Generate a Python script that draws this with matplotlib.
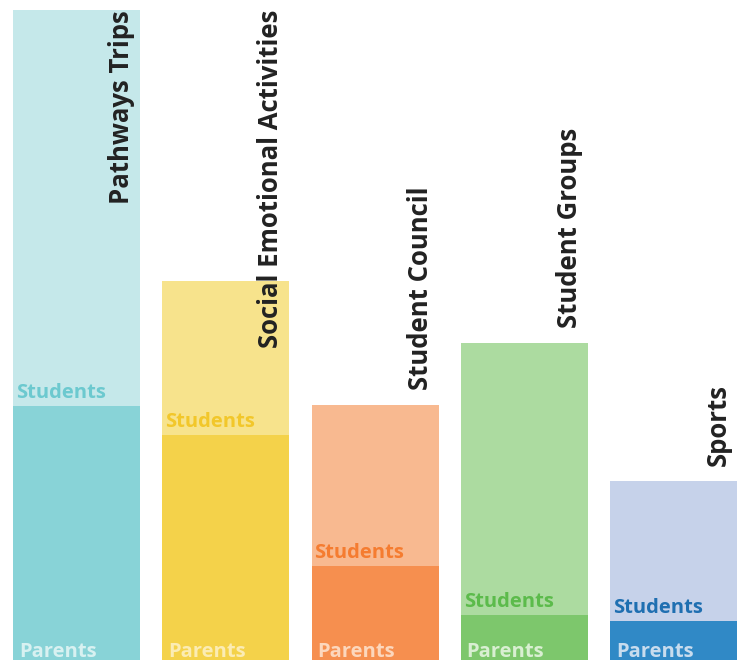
import matplotlib as mpl
import matplotlib.pyplot as plt
import numpy as np

mpl.rcParams["font.family"] = ["Open Sans", "DejaVu Sans"]

CATEGORIES = ["Pathways Trips", "Social Emotional Activities", "Student Council",
              "Student Groups", "Sports"]
PARENTS = [254, 225, 94, 45, 39]
STUDENTS = [396, 154, 161, 272, 140]

DARK = ["#88d3d7", "#f4d24a", "#f68f4f", "#7dc76c", "#3089c6"]
LIGHT = ["#c5e8ea", "#f7e38c", "#f8b990", "#acdba0", "#c6d2ea"]
STUDENT_TEXT = ["#6cc9cf", "#f2c72a", "#f57c30", "#5cbb4b", "#1f6fb1"]
PARENT_TEXT = ["#d8f1f1", "#fbecb4", "#fcd7bd", "#d9efd2", "#c8dcee"]


def main():
    fig = plt.figure(figsize=(7.52, 6.6), dpi=100)
    ax = fig.add_axes([0, 0, 1, 1])
    pitch = 149.25
    width = 127 / pitch
    x = np.arange(len(CATEGORIES))
    parents = np.array(PARENTS)
    students = np.array(STUDENTS)
    totals = parents + students

    ax.bar(x, parents, width=width, color=DARK, linewidth=0)
    ax.bar(x, students, width=width, bottom=parents, color=LIGHT, linewidth=0)

    ax.set_xlim(-76.5 / pitch, (752 - 76.5) / pitch)
    ax.set_ylim(0, 660)
    ax.axis("off")

    px = 1 / pitch
    for i in range(len(x)):
        left = x[i] - width / 2
        ax.text(left + 3 * px, parents[i] + 8, "Students", color=STUDENT_TEXT[i],
                fontsize=14.5, fontweight="bold", va="baseline", ha="left")
        ax.text(left + 6 * px, 3, "Parents", color=PARENT_TEXT[i],
                fontsize=14.5, fontweight="bold", va="baseline", ha="left")

    fig.canvas.draw()
    renderer = fig.canvas.get_renderer()
    for i, name in enumerate(CATEGORIES):
        right = x[i] + width / 2 - 5 * px
        t = ax.text(right, totals[i] + 15, name, rotation=90, color="#222222",
                    fontsize=18.5, fontweight="bold", ha="right", va="bottom")
        h = t.get_window_extent(renderer).height
        if totals[i] + 15 + h > 650:
            t.set_y(650)
            t.set_va("top")

    fig.savefig("out.png", dpi=100)


if __name__ == "__main__":
    main()
